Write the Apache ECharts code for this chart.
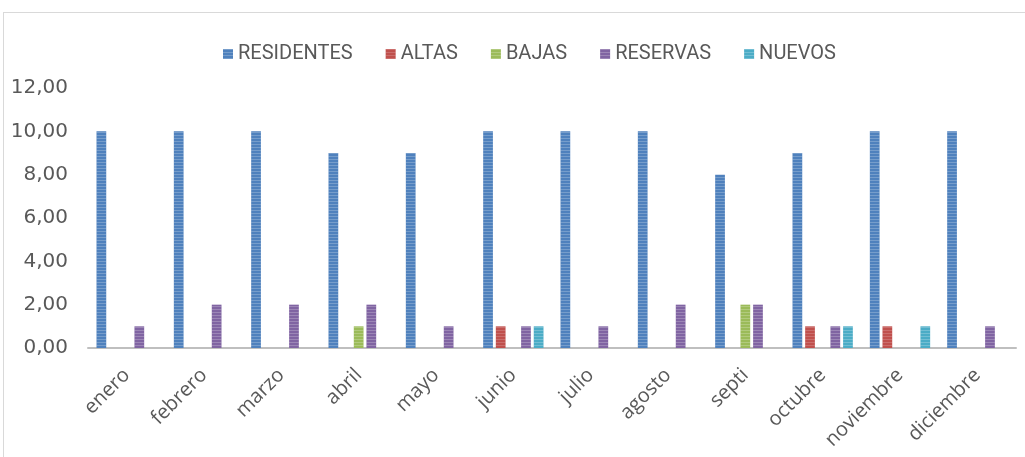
<!DOCTYPE html>
<html>
<head>
<meta charset="utf-8">
<script src="https://cdn.jsdelivr.net/npm/echarts@6/dist/echarts.min.js"></script>
<style>
html, body { margin: 0; padding: 0; background: #fff; }
#frame { position: absolute; left: 3px; top: 12px; width: 1030px; height: 460px; border: 1px solid #d9d9d9; box-sizing: border-box; }
#chart { position: absolute; left: 0; top: 0; width: 1025px; height: 457px; }
</style>
</head>
<body>
<div id="frame"></div>
<div id="chart"></div>
<script>
var months = ['enero', 'febrero', 'marzo', 'abril', 'mayo', 'junio', 'julio', 'agosto', 'septi', 'octubre', 'noviembre', 'diciembre'];
var residentes = [10, 10, 10, 9, 9, 10, 10, 10, 8, 9, 10, 10];
var altas = [0, 0, 0, 0, 0, 1, 0, 0, 0, 1, 1, 0];
var bajas = [0, 0, 0, 1, 0, 0, 0, 0, 2, 0, 0, 0];
var reservas = [1, 2, 2, 2, 1, 1, 1, 2, 2, 1, 0, 1];
var nuevos = [0, 0, 0, 0, 0, 1, 0, 0, 0, 1, 1, 0];

var chart = echarts.init(document.getElementById('chart'), null, { renderer: 'canvas' });

// thin light lines across the bars, like the Excel screenshot
var stripes = {
    symbol: 'rect',
    color: 'rgba(255,255,255,0.22)',
    dashArrayX: [1, 0],
    dashArrayY: [1, 2],
    rotation: 0
};

function bar(name, data, color) {
    return {
        name: name,
        type: 'bar',
        data: data,
        barGap: '30%',
        barCategoryGap: '22%',
        itemStyle: { color: color, decal: stripes },
        emphasis: { disabled: true }
    };
}

var option = {
    animation: false,
    aria: { enabled: true, decal: { show: true } },
    legend: {
        top: 39,
        left: 218,
        itemWidth: 10,
        itemHeight: 10,
        itemGap: 33,
        icon: 'rect',
        textStyle: { fontFamily: 'Liberation Sans Narrow, Roboto, sans-serif', fontSize: 20, color: '#595959' },
        data: ['RESIDENTES', 'ALTAS', 'BAJAS', 'RESERVAS', 'NUEVOS']
    },
    grid: { left: 88, right: 9, top: 88, bottom: 109 },
    xAxis: {
        type: 'category',
        data: months,
        axisLine: { lineStyle: { color: '#bfbfbf', width: 2 } },
        axisTick: { show: false },
        axisLabel: {
            rotate: 45,
            margin: 24,
            interval: 0,
            color: '#595959',
            fontFamily: 'Open Sans, sans-serif',
            fontSize: 20
        }
    },
    yAxis: {
        type: 'value',
        min: 0,
        max: 12,
        interval: 2,
        splitLine: { show: false },
        axisLine: { show: false },
        axisTick: { show: false },
        axisLabel: {
            margin: 20,
            color: '#595959',
            fontFamily: 'DejaVu Sans, sans-serif',
            fontSize: 20,
            formatter: function (v) { return v.toFixed(2).replace('.', ','); }
        }
    },
    series: [
        bar('RESIDENTES', residentes, '#4F81BD'),
        bar('ALTAS', altas, '#C0504D'),
        bar('BAJAS', bajas, '#9BBB59'),
        bar('RESERVAS', reservas, '#8064A2'),
        bar('NUEVOS', nuevos, '#4BACC6')
    ]
};

chart.setOption(option);
window.addEventListener('resize', chart.resize);
</script>
</body>
</html>
